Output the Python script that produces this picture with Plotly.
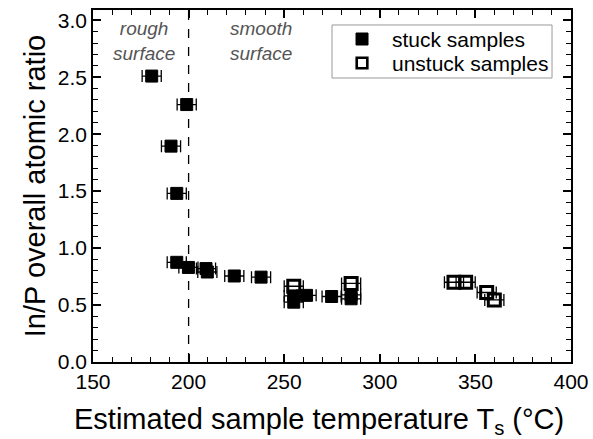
import plotly.graph_objects as go

# stuck samples (filled squares)
stuck_T = [180.7, 199.0, 190.8, 193.8, 193.8, 199.9, 209.1, 209.8, 223.9, 237.9,
           255.0, 255.0, 261.7, 274.8, 285.0, 285.0]
stuck_R = [2.51, 2.26, 1.895, 1.48, 0.875, 0.83, 0.82, 0.79, 0.755, 0.745,
           0.58, 0.525, 0.585, 0.575, 0.59, 0.555]
# unstuck samples (open squares)
unstuck_T = [255.0, 285.0, 338.8, 344.9, 355.9, 359.9]
unstuck_R = [0.665, 0.69, 0.70, 0.70, 0.61, 0.545]
T_err = 5.0

series_names = ["stuck samples", "unstuck samples"]
x_ticks = [150, 200, 250, 300, 350, 400]
y_ticks = [0.0, 0.5, 1.0, 1.5, 2.0, 2.5, 3.0]
boundary_T = 200

FONT = "Liberation Sans, Arial, sans-serif"

fig = go.Figure()
err = dict(type="constant", value=T_err, color="black", thickness=1.3, width=6)
fig.add_trace(go.Scatter(
    x=stuck_T, y=stuck_R, mode="markers", name=series_names[0],
    marker=dict(symbol="square", size=12, color="black", line=dict(color="black", width=1)),
    error_x=err, showlegend=False,
))
fig.add_trace(go.Scatter(
    x=unstuck_T, y=unstuck_R, mode="markers", name=series_names[1],
    marker=dict(symbol="square-open", size=12, color="black", line=dict(color="black", width=3)),
    error_x=err, showlegend=False,
))

fig.add_shape(type="line", x0=boundary_T, x1=boundary_T, y0=0, y1=1,
              xref="x", yref="paper", line=dict(color="black", width=1.3, dash="dash"))

fig.add_annotation(x=176.5, y=2.82, text="<i>rough<br>surface</i>", showarrow=False,
                   font=dict(family=FONT, size=19, color="#555555"), align="center")
fig.add_annotation(x=238, y=2.82, text="<i>smooth<br>surface</i>", showarrow=False,
                   font=dict(family=FONT, size=19, color="#555555"), align="center")

# legend (drawn manually for exact spacing)
fig.add_shape(type="rect", xref="paper", yref="paper", x0=0.5, x1=0.9603, y0=0.8068, y1=0.9574,
              line=dict(color="#999999", width=1), fillcolor="white", layer="above")
leg_sym_x = 0.5628
leg_rows_y = [0.9176, 0.8494]
fig.add_shape(type="rect", xref="paper", yref="paper", xsizemode="pixel", ysizemode="pixel",
              xanchor=leg_sym_x, yanchor=leg_rows_y[0], x0=-6, x1=6, y0=-6, y1=6,
              line=dict(color="black", width=1), fillcolor="black", layer="above")
fig.add_shape(type="rect", xref="paper", yref="paper", xsizemode="pixel", ysizemode="pixel",
              xanchor=leg_sym_x, yanchor=leg_rows_y[1], x0=-5.3, x1=5.3, y0=-5.3, y1=5.3,
              line=dict(color="black", width=2.6), fillcolor="white", layer="above")
for name, yy in zip(series_names, leg_rows_y):
    fig.add_annotation(x=0.6213, y=yy, xref="paper", yref="paper", text=name, showarrow=False,
                       xanchor="left", yanchor="middle",
                       font=dict(family=FONT, size=21, color="black"))

# x-axis title (as annotation to allow exact placement)
fig.add_annotation(x=0.472, y=-0.167, xref="paper", yref="paper",
                   text="Estimated sample temperature T<sub>s</sub> (°C)", showarrow=False,
                   xanchor="center", yanchor="middle",
                   font=dict(family=FONT, size=29, color="black"))

axis_common = dict(showline=True, linecolor="black", linewidth=1.5, mirror="ticks",
                   ticks="inside", ticklen=8, tickwidth=1.5, tickcolor="black",
                   showgrid=False, zeroline=False, automargin=False,
                   tickfont=dict(family=FONT, size=21, color="black"))

fig.update_xaxes(range=[150, 400], tickvals=x_ticks, ticktext=[str(v) for v in x_ticks],
                 minor=dict(dtick=10, ticks="inside", ticklen=5, tickwidth=1.3, tickcolor="black"),
                 **axis_common)
fig.update_yaxes(range=[0, 3.09], tickvals=y_ticks, ticktext=[f"{v:.1f}" for v in y_ticks],
                 minor=dict(dtick=0.1, ticks="inside", ticklen=5, tickwidth=1.3, tickcolor="black"),
                 title=dict(text="In/P overall atomic ratio",
                            font=dict(family=FONT, size=29, color="black"), standoff=4),
                 **axis_common)

fig.update_layout(
    width=593, height=439,
    margin=dict(l=93, r=22, t=10, b=77),
    plot_bgcolor="white", paper_bgcolor="white",
    showlegend=False,
)

fig.write_html("out.html", config={"displayModeBar": False},
               post_script="document.body.style.margin='0';document.body.style.padding='0';")
